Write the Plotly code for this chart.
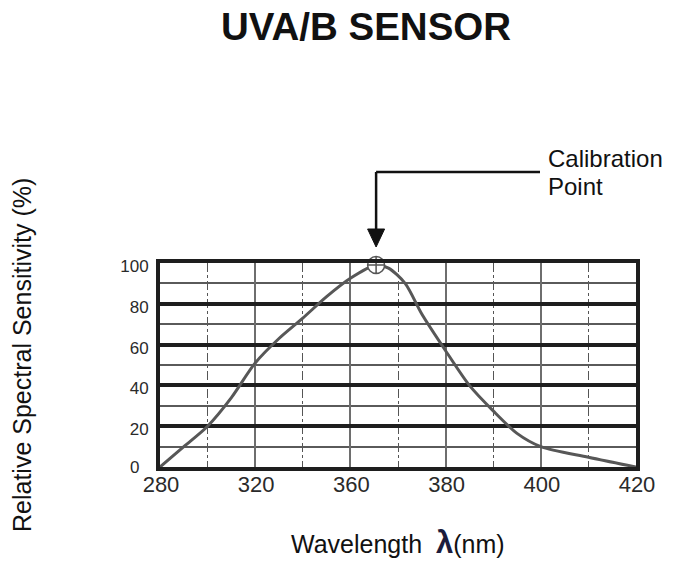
import numpy as np
import plotly.graph_objects as go

# ---- data ----
tick_labels = [280, 320, 360, 380, 400, 420]          # printed x tick labels (nm)
wavelength = [280, 290, 300, 310, 320, 330, 340, 350, 360, 365.4,
              368, 371.5, 375, 380, 385, 390, 395, 400, 410, 420]
sensitivity = [0, 10, 20, 34, 51, 63, 73, 83.5, 92.5, 99,
               97.5, 90, 75, 57, 40, 27.5, 16.5, 10, 4.8, 0]
calib_wavelength = [365.4]
calib_value = [99]
y_ticks = [20, 40, 60, 80, 100]
y_zero_label = "0"
y_minor = [10, 30, 50, 70, 90]

# the printed x scale is non-uniform: labels sit on every second grid division
tick_pos = [0, 2, 4, 6, 8, 10]
def to_axis(w):
    return np.interp(w, tick_labels, tick_pos)

x_curve = to_axis(wavelength)
x_cal = to_axis(calib_wavelength)

FONT = "Liberation Sans, Arial, sans-serif"

fig = go.Figure()
fig.add_trace(go.Scatter(
    x=x_curve, y=sensitivity, mode="lines",
    line=dict(color="#575757", width=3, shape="spline", smoothing=0.8),
    hoverinfo="skip", showlegend=False))
fig.add_trace(go.Scatter(
    x=x_cal, y=calib_value, mode="markers",
    marker=dict(symbol="circle-cross", size=17, color="white",
                line=dict(color="#555555", width=1.5)),
    showlegend=False, cliponaxis=False))

W, H = 688, 587
L, R, T, B = 160, 52, 263, 120
pw, ph = W - L - R, H - T - B

def px(xp):
    return (xp - L) / pw
def py(yp):
    return (H - B - yp) / ph

cal_px = L + float(x_cal[0]) / 10.0 * pw
cx = px(cal_px)
hw = 8.5 / pw

fig.update_layout(
    width=W, height=H,
    margin=dict(l=L, r=R, t=T, b=B),
    paper_bgcolor="white", plot_bgcolor="white",
    font=dict(family=FONT, color="#222"),
    title=dict(text="<b>UVA/B SENSOR</b>", x=366 / W, xref="container", xanchor="center",
               y=1 - 27 / H, yref="container", yanchor="middle",
               font=dict(size=38.5, color="#111", family=FONT)),
    xaxis=dict(range=[0, 10], tickvals=tick_pos, ticktext=[str(t) for t in tick_labels],
               showgrid=True, gridcolor="#6e6e6e", gridwidth=1.5,
               minor=dict(tickvals=[1, 3, 5, 7, 9], showgrid=True, gridcolor="#555",
                          gridwidth=1, griddash="dashdot"),
               showline=True, mirror=True, linecolor="#1e1e1e", linewidth=4,
               zeroline=False, ticks="", ticklabelstandoff=-5, ticklabelshift=1,
               tickfont=dict(size=22, color="#2a2a2a", family=FONT)),
    yaxis=dict(range=[0, 100], tickvals=y_ticks,
               showgrid=True, gridcolor="#1e1e1e", gridwidth=4,
               minor=dict(tickvals=y_minor, showgrid=True, gridcolor="#5a5a5a", gridwidth=1.5),
               showline=True, mirror=True, linecolor="#1e1e1e", linewidth=4,
               zeroline=False, ticks="", ticklabelstandoff=4, ticklabelshift=3,
               tickfont=dict(size=17, color="#2a2a2a", family=FONT)),
    annotations=[
        dict(text=y_zero_label, xref="paper", yref="y", x=px(141), y=0,
             xanchor="right", yanchor="middle", showarrow=False,
             font=dict(size=17, color="#2a2a2a", family=FONT)),
        dict(text="Relative Spectral Sensitivity (%)", textangle=-90,
             xref="paper", yref="paper", x=px(22), y=py(355),
             xanchor="center", yanchor="middle", showarrow=False,
             font=dict(size=25, color="#111", family=FONT)),
        dict(text='Wavelength  <span style="font-size:31px;font-weight:bold;color:#1c1c3c">λ</span>(nm)',
             xref="paper", yref="paper", x=px(398), y=py(542),
             xanchor="center", yanchor="middle", showarrow=False,
             font=dict(size=25, color="#111", family=FONT)),
        dict(text="Calibration", align="left",
             xref="paper", yref="paper", x=px(546), y=py(158),
             xanchor="left", yanchor="middle", showarrow=False,
             font=dict(size=24, color="#111", family=FONT)),
        dict(text="Point", align="left",
             xref="paper", yref="paper", x=px(546), y=py(186),
             xanchor="left", yanchor="middle", showarrow=False,
             font=dict(size=24, color="#111", family=FONT)),
    ],
    shapes=[
        dict(type="line", xref="paper", yref="paper",
             x0=cx, x1=px(540), y0=py(172), y1=py(172),
             line=dict(color="#111", width=2.5)),
        dict(type="line", xref="paper", yref="paper",
             x0=cx, x1=cx, y0=py(172), y1=py(232),
             line=dict(color="#111", width=2.5)),
        dict(type="path", xref="paper", yref="paper",
             path=f"M {cx - hw} {py(229)} L {cx + hw} {py(229)} L {cx} {py(247)} Z",
             fillcolor="#111", line=dict(color="#111", width=1)),
    ],
)

fig.write_html("out.html", config={"displayModeBar": False},
               post_script="document.body.style.margin='0px';")
